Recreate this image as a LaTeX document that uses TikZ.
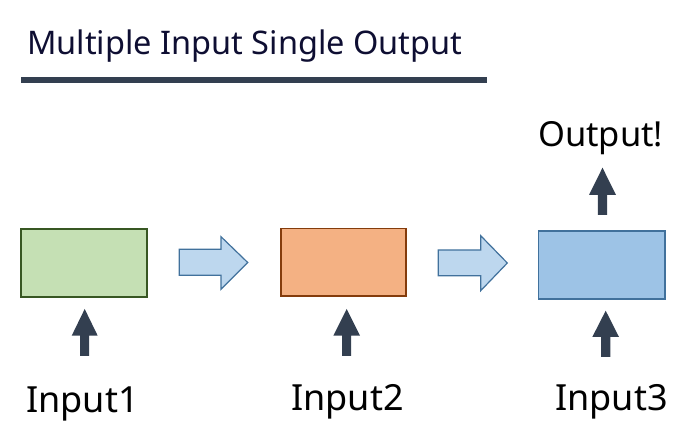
\documentclass[tikz,border=0pt]{standalone}
\usepackage{fontspec}
\setmainfont{Noto Sans}
\definecolor{greenfill}{HTML}{C5E0B4}
\definecolor{greenline}{HTML}{385723}
\definecolor{orangefill}{HTML}{F4B183}
\definecolor{orangeline}{HTML}{843C0C}
\definecolor{bluefill}{HTML}{9DC3E6}
\definecolor{blueline}{HTML}{41719C}
\definecolor{arrowfill}{HTML}{BDD7EE}
\definecolor{darkslate}{HTML}{333F50}
\definecolor{titlecol}{HTML}{0E0E32}
\tikzset{
  box/.style={draw, line width=1.6pt},
  blockarrow/.style={draw=blueline, fill=arrowfill, line width=1.2pt, line join=miter},
  uparrow/.style={fill=darkslate},
  label/.style={inner sep=0pt, anchor=base west, font=\fontsize{36}{40}\selectfont},
}
\begin{document}
\begin{tikzpicture}[x=1pt,y=-1pt]
\useasboundingbox (0,0) rectangle (699,446);
% title
\node[inner sep=0pt, anchor=base west, text=titlecol] (title) at (27,55)
  {\fontsize{32.5}{36}\selectfont Multiple Input Single Output};
\fill[darkslate] (21,77) rectangle (487,83.5);
% boxes
\draw[box, draw=greenline, fill=greenfill] (21,229) rectangle (147,297);
\draw[box, draw=orangeline, fill=orangefill] (281,228.5) rectangle (406,296);
\draw[box, draw=blueline, fill=bluefill] (538.5,231) rectangle (665,299);
% block arrows
\draw[blockarrow] (179.3,249.3) -- (221,249.3) -- (221,236.7) -- (247.7,262.5) -- (221,289.3) -- (221,275.3) -- (179.3,275.3) -- cycle;
\draw[blockarrow] (438.3,250) -- (480.7,250) -- (480.7,235.7) -- (507.3,263) -- (480.7,290.7) -- (480.7,275.7) -- (438.3,275.7) -- cycle;
% up arrows
\fill[uparrow] (84.7,309) -- (97.7,335.7) -- (89.2,335.7) -- (89.2,356) -- (80.2,356) -- (80.2,335.7) -- (71.7,335.7) -- cycle;
\fill[uparrow] (346.7,309) -- (360,335.7) -- (351.2,335.7) -- (351.2,356) -- (342.2,356) -- (342.2,335.7) -- (333.3,335.7) -- cycle;
\fill[uparrow] (605.7,310.7) -- (619,337) -- (610.3,337) -- (610.3,357) -- (601,357) -- (601,337) -- (592.3,337) -- cycle;
\fill[uparrow] (602.5,167.7) -- (616,195) -- (607,195) -- (607,215) -- (597.8,215) -- (597.8,195) -- (589,195) -- cycle;
% labels
\node[label] (in1) at (26,412.3) {Input1};
\node[label] (in2) at (291,410.7) {Input2};
\node[label] (in3) at (555,410) {Input3};
\node[label, font=\fontsize{34.5}{38}\selectfont] (out) at (538,146.7) {Output!};
\end{tikzpicture}
\end{document}
